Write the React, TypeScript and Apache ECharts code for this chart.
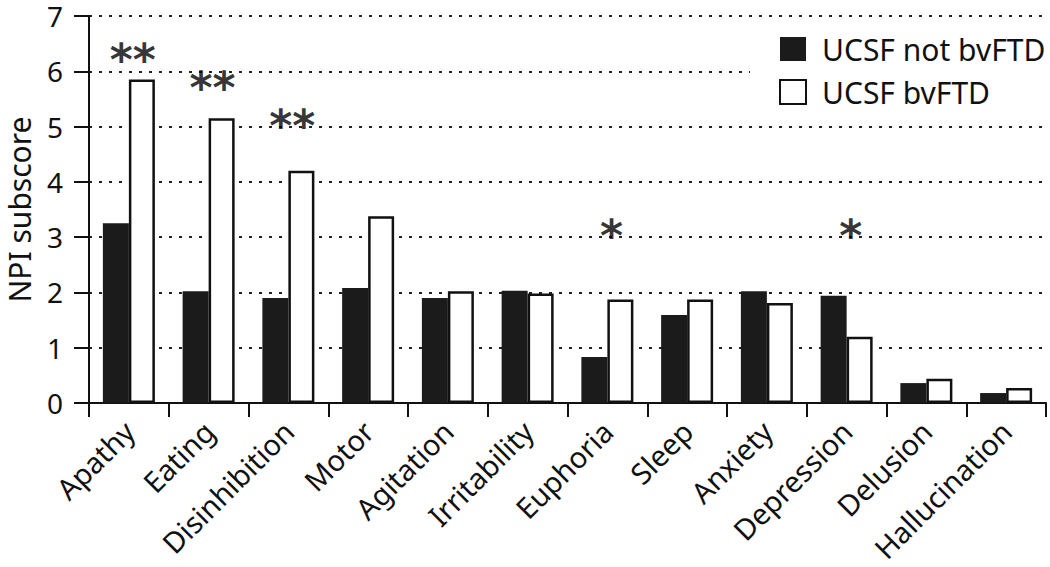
import React, { useEffect, useRef } from "react";
import * as echarts from "echarts";

const categories = ["Apathy", "Eating", "Disinhibition", "Motor", "Agitation", "Irritability", "Euphoria", "Sleep", "Anxiety", "Depression", "Delusion", "Hallucination"];
const notBvFTD = [3.25, 2.02, 1.9, 2.08, 1.9, 2.03, 0.83, 1.59, 2.02, 1.94, 0.36, 0.18];
const bvFTD = [5.85, 5.15, 4.2, 3.38, 2.02, 1.98, 1.87, 1.87, 1.81, 1.2, 0.44, 0.27];
const sigMarks = ["**", "**", "**", "", "", "", "*", "", "", "*", "", ""];
const sigHeights = [6.22, 5.7, 5.02, null, null, null, 3.03, null, null, 3.03, null, null];
const yTicks = [0, 1, 2, 3, 4, 5, 6, 7];

const FONT = "'Noto Sans', 'Open Sans', sans-serif";

export default function App() {
  const ref = useRef<HTMLDivElement>(null);
  useEffect(() => {
    const chart = echarts.init(ref.current!, null, { renderer: "svg" });
    chart.setOption({
      animation: false,
      textStyle: { fontFamily: FONT },
      grid: { left: 89, right: 4, top: 16, bottom: 164, containLabel: false, outerBoundsMode: "none" },
      legend: {
        data: ["UCSF not bvFTD", "UCSF bvFTD"],
        orient: "vertical",
        left: 750,
        top: 17,
        padding: [17, 10, 12, 29],
        backgroundColor: "#fff",
        icon: "rect",
        itemWidth: 26,
        itemHeight: 24,
        itemGap: 13,
        textStyle: { fontSize: 30, color: "#111", fontFamily: FONT, padding: [0, 0, 0, 11] },
      },
      xAxis: {
        type: "category",
        data: categories,
        axisLine: { show: true, lineStyle: { color: "#111", width: 2 } },
        axisTick: { show: true, length: 14, lineStyle: { color: "#111", width: 2 } },
        axisLabel: {
          rotate: 45,
          margin: 23,
          verticalAlign: "middle",
          fontSize: 29,
          lineHeight: 29,
          color: "#111",
          fontFamily: FONT,
          interval: 0,
        },
      },
      yAxis: {
        type: "value",
        min: yTicks[0],
        max: yTicks[yTicks.length - 1],
        interval: 1,
        name: "NPI subscore",
        nameLocation: "middle",
        nameRotate: 90,
        nameGap: 55,
        nameTextStyle: { fontSize: 30, lineHeight: 30, color: "#111", fontFamily: FONT },
        axisLine: { show: true, lineStyle: { color: "#111", width: 2 } },
        axisTick: { show: true, length: 15, lineStyle: { color: "#111", width: 2 } },
        axisLabel: { margin: 26, fontSize: 28, lineHeight: 24, color: "#111", fontFamily: FONT },
        splitLine: { show: true, lineStyle: { color: "#222", width: 2, type: [3, 7] } },
      },
      series: [
        {
          name: "UCSF not bvFTD",
          type: "bar",
          data: notBvFTD,
          barWidth: 26,
          barGap: "0%",
          itemStyle: { color: "#1b1b1b", borderColor: "#1b1b1b", borderWidth: 0 },
        },
        {
          name: "UCSF bvFTD",
          type: "bar",
          data: bvFTD,
          barWidth: 26,
          barGap: "0%",
          itemStyle: { color: "#fff", borderColor: "#111", borderWidth: 2.5 },
        },
        {
          name: "sig",
          type: "scatter",
          data: sigHeights,
          symbol: "circle",
          symbolSize: 1,
          itemStyle: { color: "rgba(0,0,0,0)" },
          label: {
            show: true,
            position: "inside",
            offset: [4, 0],
            fontSize: 44,
            fontWeight: "bold",
            color: "#000",
            fontFamily: "'DejaVu Sans', sans-serif",
            formatter: (p: any) => sigMarks[p.dataIndex],
          },
          z: 5,
        },
      ],
    });
    return () => chart.dispose();
  }, []);
  return (
    <div
      ref={ref}
      style={{ position: "fixed", left: 0, top: 0, width: 1050, height: 567, background: "#fff" }}
    />
  );
}
